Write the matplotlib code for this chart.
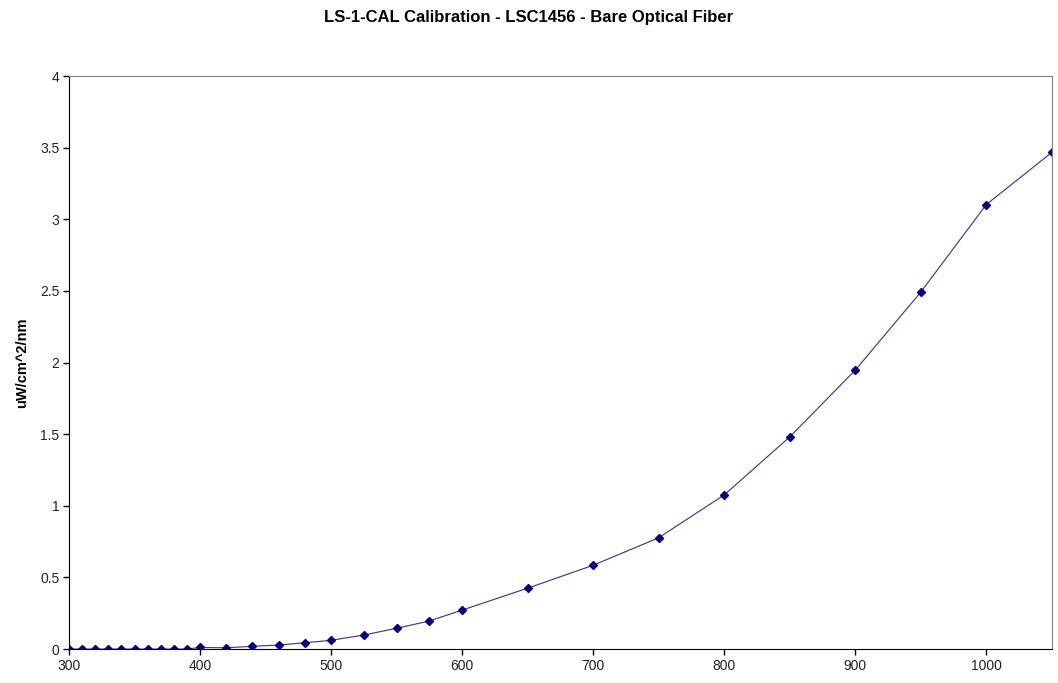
import matplotlib
matplotlib.use('Agg')
import matplotlib.pyplot as plt

plt.rcParams['font.family'] = ['Liberation Sans', 'DejaVu Sans']

wavelength = [300, 310, 320, 330, 340, 350, 360, 370, 380, 390,
              400, 420, 440, 460, 480, 500, 525, 550, 575, 600,
              650, 700, 750, 800, 850, 900, 950, 1000, 1050]
irradiance = [0, 0, 0, 0, 0, 0, 0, 0, 0, 0,
              0.011, 0.009, 0.019, 0.028, 0.044, 0.061, 0.098, 0.145, 0.196, 0.272,
              0.425, 0.585, 0.777, 1.076, 1.481, 1.947, 2.492, 3.103, 3.467]
x_ticks = [300, 400, 500, 600, 700, 800, 900, 1000]
y_ticks = [0, 0.5, 1, 1.5, 2, 2.5, 3, 3.5, 4]
y_labels = ['0', '0.5', '1', '1.5', '2', '2.5', '3', '3.5', '4']

fig = plt.figure(figsize=(10.58, 6.83), dpi=100)
ax = fig.add_axes([0.0652, 0.0497, 0.929, 0.8390])

ax.plot(wavelength, irradiance, color='#3a3a9e', lw=0.85,
        marker='D', markersize=4.3, markerfacecolor='#000080', markeredgecolor='#000080')

ax.set_xlim(300, 1050)
ax.set_ylim(0, 4)
ax.set_xticks(x_ticks)
ax.set_yticks(y_ticks)
ax.set_yticklabels(y_labels)
ax.tick_params(labelsize=10, length=4, width=1, direction='out', pad=3,
               labelcolor='#222222')

for side in ['top', 'right']:
    ax.spines[side].set_color('#808080')
for side in ['left', 'bottom']:
    ax.spines[side].set_color('black')

ax.set_ylabel('uW/cm^2/nm', fontsize=10.5, fontweight='bold', labelpad=8)
fig.suptitle('LS-1-CAL Calibration - LSC1456 - Bare Optical Fiber',
             fontsize=12, fontweight='bold', y=0.985)

fig.savefig('out.png', dpi=100)
